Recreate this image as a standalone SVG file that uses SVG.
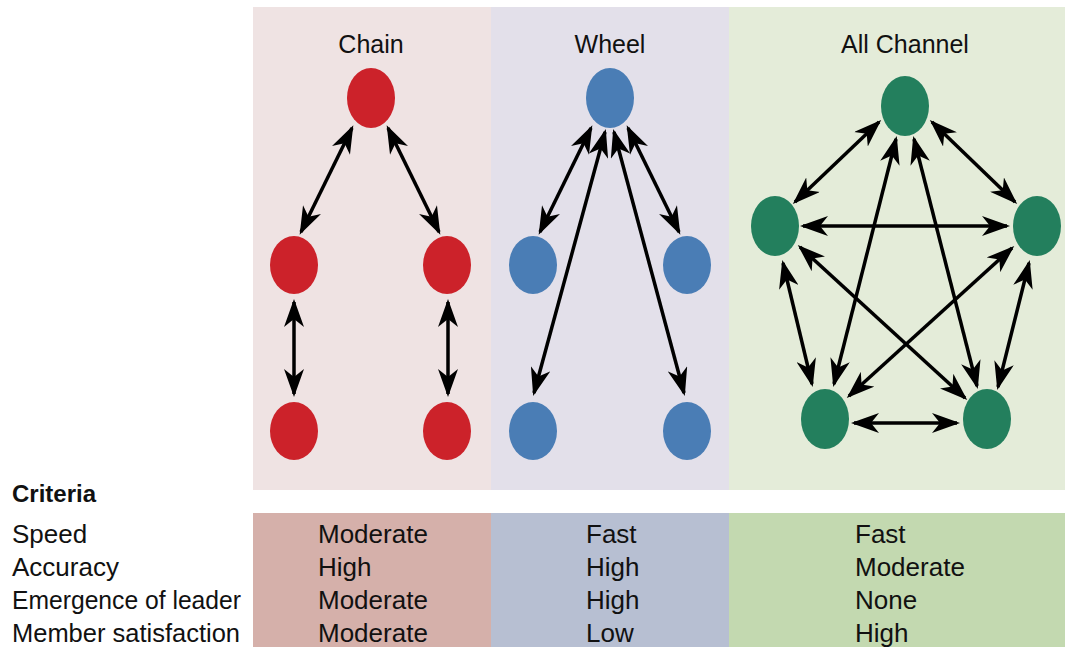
<svg xmlns="http://www.w3.org/2000/svg" width="1065" height="647" viewBox="0 0 1065 647">
<style>
.t{font-family:"Liberation Sans Narrow","Liberation Sans",Arial,sans-serif;fill:#111;}
.title{font-size:25px;text-anchor:middle;}
.cell{font-size:26px;}
.crit{font-size:24px;font-weight:bold;}
.red{fill:#cc222a;}
.blue{fill:#4a7db5;}
.green{fill:#237f5d;}
#connectors line{stroke:#000;stroke-width:3.5;marker-start:url(#ah);marker-end:url(#ah);}
</style>
<defs>
<marker id="ah" viewBox="0 0 28 20" refX="25" refY="10" markerWidth="28" markerHeight="20" markerUnits="userSpaceOnUse" orient="auto-start-reverse">
<path d="M28,10 L0,0 L8,10 L0,20 Z" fill="#000"/>
</marker>
</defs>
<rect width="1065" height="647" fill="#fff"/>
<g id="panels">
<rect x="253" y="7" width="238" height="483" fill="#efe3e3"/>
<rect x="491" y="7" width="238" height="483" fill="#e3e0ea"/>
<rect x="729" y="7" width="336" height="483" fill="#e4ecd9"/>
<rect x="253" y="513" width="238" height="134" fill="#d5b0aa"/>
<rect x="491" y="513" width="238" height="134" fill="#b7bfd2"/>
<rect x="729" y="513" width="336" height="134" fill="#c3d9b0"/>
</g>
<g id="titles">
<text class="t title" x="371" y="53">Chain</text>
<text class="t title" x="610" y="53">Wheel</text>
<text class="t title" x="905" y="53">All Channel</text>
</g>
<g id="connectors">
<line x1="352" y1="128" x2="301" y2="232"/>
<line x1="388" y1="128" x2="439" y2="232"/>
<line x1="294" y1="302" x2="294" y2="394"/>
<line x1="448" y1="302" x2="448" y2="394"/>
<line x1="591" y1="128" x2="540" y2="232"/>
<line x1="628" y1="128" x2="679" y2="232"/>
<line x1="605" y1="132" x2="534" y2="393"/>
<line x1="614" y1="132" x2="684" y2="393"/>
<line x1="879" y1="122" x2="795" y2="202"/>
<line x1="932" y1="122" x2="1015" y2="202"/>
<line x1="803" y1="226" x2="1007" y2="226"/>
<line x1="896" y1="139" x2="834" y2="384"/>
<line x1="914" y1="139" x2="977" y2="386"/>
<line x1="783" y1="263" x2="812" y2="384"/>
<line x1="1029" y1="263" x2="998" y2="387"/>
<line x1="800" y1="247" x2="965" y2="398"/>
<line x1="1012" y1="248" x2="849" y2="396"/>
<line x1="854" y1="423" x2="957" y2="423"/>
</g>
<g id="chain-top"><ellipse class="red" cx="371" cy="98" rx="24" ry="30"/></g>
<g id="chain-ml"><ellipse class="red" cx="294" cy="265" rx="24" ry="29"/></g>
<g id="chain-mr"><ellipse class="red" cx="447" cy="265" rx="24" ry="29"/></g>
<g id="chain-bl"><ellipse class="red" cx="294" cy="431" rx="24" ry="29"/></g>
<g id="chain-br"><ellipse class="red" cx="447" cy="431" rx="24" ry="29"/></g>
<g id="wheel-top"><ellipse class="blue" cx="610" cy="98" rx="24" ry="30"/></g>
<g id="wheel-ml"><ellipse class="blue" cx="533" cy="265" rx="24" ry="29"/></g>
<g id="wheel-mr"><ellipse class="blue" cx="687" cy="265" rx="24" ry="29"/></g>
<g id="wheel-bl"><ellipse class="blue" cx="533" cy="431" rx="24" ry="29"/></g>
<g id="wheel-br"><ellipse class="blue" cx="687" cy="431" rx="24" ry="29"/></g>
<g id="all-top"><ellipse class="green" cx="905" cy="106" rx="24" ry="30"/></g>
<g id="all-left"><ellipse class="green" cx="775" cy="226" rx="24" ry="30"/></g>
<g id="all-right"><ellipse class="green" cx="1037" cy="226" rx="24" ry="30"/></g>
<g id="all-bl"><ellipse class="green" cx="825" cy="419" rx="24" ry="30"/></g>
<g id="all-br"><ellipse class="green" cx="987" cy="419" rx="24" ry="30"/></g>
<g id="table">
<text class="t crit" x="12" y="502">Criteria</text>
<text class="t cell" x="12" y="543">Speed</text>
<text class="t cell" x="12" y="576">Accuracy</text>
<text class="t cell" x="12" y="609" textLength="229" lengthAdjust="spacingAndGlyphs">Emergence of leader</text>
<text class="t cell" x="12" y="642" textLength="228" lengthAdjust="spacingAndGlyphs">Member satisfaction</text>
<text class="t cell" x="318" y="543">Moderate</text>
<text class="t cell" x="318" y="576">High</text>
<text class="t cell" x="318" y="609">Moderate</text>
<text class="t cell" x="318" y="642">Moderate</text>
<text class="t cell" x="586" y="543">Fast</text>
<text class="t cell" x="586" y="576">High</text>
<text class="t cell" x="586" y="609">High</text>
<text class="t cell" x="586" y="642">Low</text>
<text class="t cell" x="855" y="543">Fast</text>
<text class="t cell" x="855" y="576">Moderate</text>
<text class="t cell" x="855" y="609">None</text>
<text class="t cell" x="855" y="642">High</text>
</g>
</svg>
